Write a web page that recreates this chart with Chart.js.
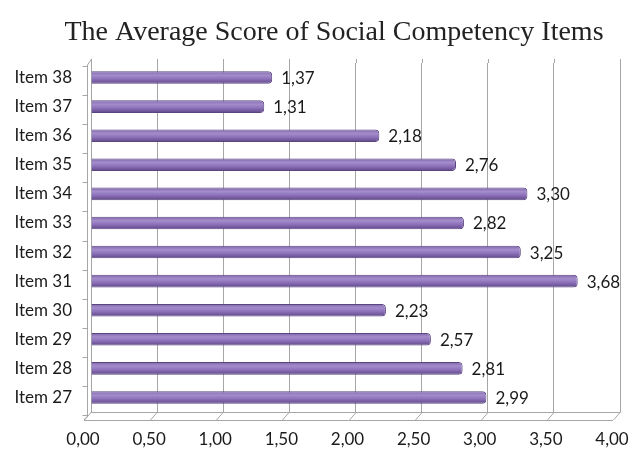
<!DOCTYPE html>
<html>
<head>
<meta charset="utf-8">
<script src="https://cdn.jsdelivr.net/npm/chart.js@4/dist/chart.umd.min.js"></script>
<style>
  html, body { margin: 0; padding: 0; background: #fff; }
  #wrap { width: 630px; height: 450px; }
</style>
</head>
<body>
<div id="wrap"><canvas id="chart"></canvas></div>
<script>
const titleText = 'The Average Score of Social Competency Items';
const items = ['Item 38', 'Item 37', 'Item 36', 'Item 35', 'Item 34', 'Item 33',
               'Item 32', 'Item 31', 'Item 30', 'Item 29', 'Item 28', 'Item 27'];
const scores = [1.37, 1.31, 2.18, 2.76, 3.30, 2.82, 3.25, 3.68, 2.23, 2.57, 2.81, 2.99];
const xMax = 4;
const xStep = 0.5;

const fmt = v => v.toFixed(2).replace('.', ',');
const labelFont = { family: 'Lato', size: 17 };

// cylinder-ish shading per bar
function barFill(ctx) {
    const chart = ctx.chart;
    const y = chart.scales.y;
    if (!y || ctx.dataIndex === undefined) return '#8064a2';
    const c = y.getPixelForValue(ctx.dataIndex);
    if (!Number.isFinite(c)) return '#8064a2';
    const g = chart.ctx.createLinearGradient(0, c - 6, 0, c + 6);
    g.addColorStop(0, '#8267ad');
    g.addColorStop(0.3, '#a48dcb');
    g.addColorStop(0.6, '#8e72bb');
    g.addColorStop(1, '#62498a');
    return g;
}

// title sits a bit right of the canvas centre in the original
const titlePlugin = {
    id: 'titleText',
    afterDraw(chart) {
        const { ctx } = chart;
        ctx.save();
        ctx.fillStyle = '#222';
        ctx.font = '28px "Liberation Serif"';
        ctx.textAlign = 'center';
        ctx.textBaseline = 'alphabetic';
        ctx.fillText(titleText, 334, 40);
        ctx.restore();
    }
};

// floor + left wall of the 3d box
const box3d = {
    id: 'box3d',
    beforeDatasetsDraw(chart) {
        const { ctx, chartArea: a, scales } = chart;
        const dx = -7, dy = 8;
        ctx.save();
        ctx.strokeStyle = '#a6a6a6';
        ctx.lineWidth = 1;
        ctx.beginPath();
        // grid tops poke a little above the plot like the original
        for (let v = 0; v <= xMax + 1e-9; v += xStep) {
            const px = Math.round(scales.x.getPixelForValue(v)) + 0.5;
            ctx.moveTo(px, a.top - 4);
            ctx.lineTo(px, a.top);
        }
        // floor back + front edges
        ctx.moveTo(a.left, a.bottom + 0.5);
        ctx.lineTo(a.right, a.bottom + 0.5);
        ctx.moveTo(a.left + dx, a.bottom + dy + 0.5);
        ctx.lineTo(a.right + dx, a.bottom + dy + 0.5);
        for (let v = 0; v <= xMax + 1e-9; v += xStep) {
            const px = Math.round(scales.x.getPixelForValue(v)) + 0.5;
            ctx.moveTo(px, a.bottom);
            ctx.lineTo(px + dx, a.bottom + dy);
        }
        // left wall front edge + top
        const wx = a.left - 3.5;
        ctx.moveTo(a.left + 0.5, a.top - 4);
        ctx.lineTo(wx, a.top + 2);
        ctx.lineTo(wx, a.bottom + 4);
        ctx.lineTo(a.left + dx, a.bottom + dy);
        // category ticks on wall
        const n = items.length;
        for (let i = 0; i <= n; i++) {
            const yy = Math.round(a.top + (a.bottom - a.top) * i / n) + 3.5;
            ctx.moveTo(wx - 5, yy);
            ctx.lineTo(wx, yy);
        }
        ctx.stroke();
        ctx.restore();
    }
};

const valueLabels = {
    id: 'valueLabels',
    afterDatasetsDraw(chart) {
        const { ctx } = chart;
        const meta = chart.getDatasetMeta(0);
        ctx.save();
        ctx.fillStyle = '#1a1a1a';
        ctx.font = labelFont.size + 'px ' + labelFont.family;
        ctx.textBaseline = 'middle';
        ctx.textAlign = 'left';
        meta.data.forEach((bar, i) => {
            ctx.fillText(fmt(scores[i]), bar.x + 9, bar.y + 1);
        });
        ctx.restore();
    }
};

new Chart(document.getElementById('chart'), {
    type: 'bar',
    data: {
        labels: items,
        datasets: [{
            data: scores,
            backgroundColor: barFill,
            borderColor: '#5a4580',
            borderWidth: 1,
            borderRadius: { topRight: 4, bottomRight: 4 },
            borderSkipped: 'start',
            barPercentage: 0.43,
            categoryPercentage: 1
        }]
    },
    options: {
        indexAxis: 'y',
        responsive: true,
        maintainAspectRatio: false,
        animation: false,
        layout: { padding: { left: 0, right: 0, top: 63, bottom: 0 } },
        plugins: {
            legend: { display: false },
            tooltip: { enabled: false },
            title: { display: false }
        },
        scales: {
            x: {
                min: 0,
                max: xMax,
                ticks: {
                    stepSize: xStep,
                    color: '#1a1a1a',
                    font: labelFont,
                    padding: 17,
                    labelOffset: -8,
                    callback: v => fmt(v)
                },
                grid: { color: '#a6a6a6', drawTicks: false },
                border: { display: false },
                afterFit: s => {
                    s.height = 38;
                    s.paddingLeft = 0;
                    s.paddingRight = 10;
                }
            },
            y: {
                ticks: { color: '#1a1a1a', font: labelFont, padding: 19 },
                grid: { display: false, drawTicks: false },
                border: { display: false },
                afterFit: s => { s.width = 91; }
            }
        }
    },
    plugins: [box3d, valueLabels, titlePlugin]
});
</script>
</body>
</html>
